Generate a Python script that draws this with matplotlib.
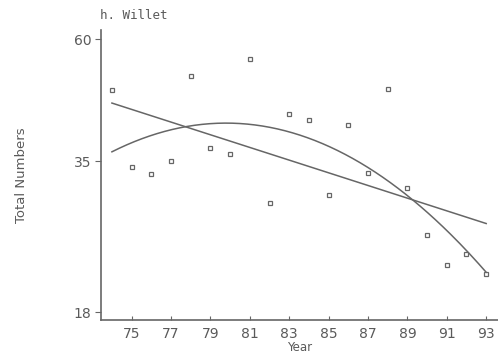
import matplotlib
matplotlib.use("Agg")
import matplotlib.pyplot as plt
from matplotlib.ticker import FixedLocator, FixedFormatter, NullLocator
import numpy as np

# data
years = [74, 75, 76, 77, 78, 79, 80, 81, 82, 83, 84, 85, 86, 87, 88, 89, 90, 91, 92, 93]
counts = [48.0, 34.1, 33.1, 35.0, 51.1, 37.1, 36.1, 54.9, 29.1, 43.1,
          42.0, 30.2, 41.1, 33.2, 48.1, 31.2, 25.3, 22.2, 23.3, 21.3]
xticks = [75, 77, 79, 81, 83, 85, 87, 89, 91, 93]
yticks = [18, 35, 60]

grey = '#666666'
tgrey = '#5a5a5a'

x = np.array(years, dtype=float)
ly = np.log10(np.array(counts))

# fits on log scale
p1 = np.polyfit(x, ly, 1)
p2 = np.polyfit(x, ly, 2)
xs = np.linspace(74, 93, 200)

fig = plt.figure(figsize=(4.98, 3.6), dpi=100)
ax = fig.add_axes([0.203, 0.111, 0.797, 0.806])

ax.plot(x, counts, 's', mfc='none', mec=grey, ms=3.5, mew=0.9)
ax.plot(xs, 10 ** np.polyval(p1, xs), color=grey, lw=1.1)
ax.plot(xs, 10 ** np.polyval(p2, xs), color=grey, lw=1.1)

ax.set_yscale('log')
ax.set_ylim(17.4, 62.5)
ax.set_xlim(73.45, 93.6)

ax.yaxis.set_major_locator(FixedLocator(yticks))
ax.yaxis.set_major_formatter(FixedFormatter([str(t) for t in yticks]))
ax.yaxis.set_minor_locator(NullLocator())
ax.set_xticks(xticks)
ax.set_xticklabels([str(t) for t in xticks])

ax.tick_params(axis='y', direction='out', length=4, color=grey, labelcolor=tgrey, labelsize=10, pad=3)
ax.tick_params(axis='x', direction='in', length=3, color=grey, labelcolor=tgrey, labelsize=10, pad=5)

ax.spines['right'].set_color('none')
ax.spines['top'].set_color('none')
ax.spines['left'].set_color(grey)
ax.spines['bottom'].set_color(grey)
ax.spines['left'].set_linewidth(1.2)
ax.spines['bottom'].set_linewidth(1.2)

ax.set_xlabel('Year', fontsize=8.5, color=tgrey, labelpad=0)
ax.set_ylabel('Total Numbers', fontsize=9.5, color=tgrey, labelpad=33)
fig.text(0.2, 0.958, 'h. Willet', fontsize=9, color=tgrey, family='DejaVu Sans Mono', ha='left', va='center')

fig.savefig('out.png', dpi=100)
